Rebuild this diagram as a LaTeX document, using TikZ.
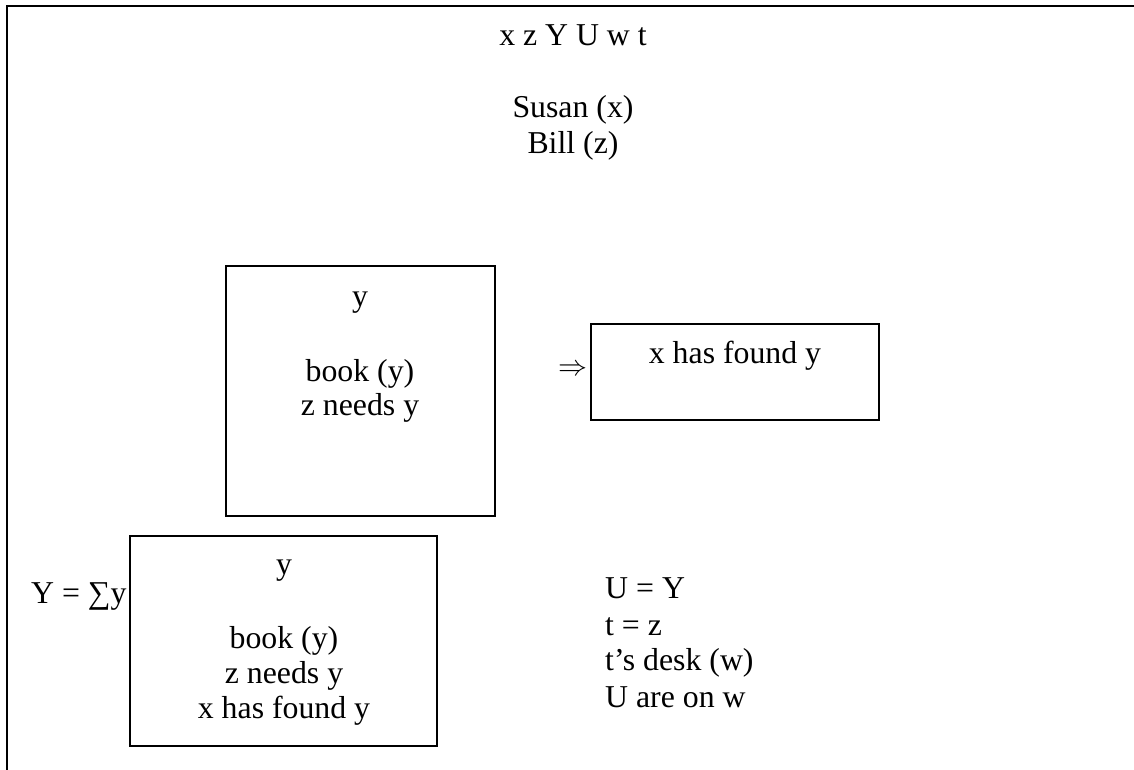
\documentclass[tikz,border=0pt]{standalone}
\usepackage{fontspec}
\usepackage{graphicx}
\setmainfont{Liberation Serif}
\begin{document}
\begin{tikzpicture}[x=1pt,y=-1pt,
  drsline/.style={line width=2pt,black},
  drsbox/.style={draw,line width=2pt,rectangle,inner sep=0pt,text=black},
  txt/.style={inner sep=0pt,anchor=base,font=\fontsize{31.8}{36}\selectfont},
  txtl/.style={txt,anchor=base west}]
  \useasboundingbox (0,0) rectangle (1134,770);

  % outer frame (only top and left edges fall in view)
  \draw[drsline] (1134,6) -- (7,6) -- (7,770);

  % main universe and conditions
  \node[txt] (univ) at (573,46) {x z Y U w t};
  \node[txt] (susan) at (573,118) {Susan (x)};
  \node[txt] (bill) at (573,154) {Bill (z)};

  % antecedent box
  \node[drsbox,minimum width=269pt,minimum height=250pt] (boxA) at (360.5,391) {};
  \node[txt] (ay) at (360,306) {y};
  \node[txt] (abook) at (360,381) {book (y)};
  \node[txt] (aneeds) at (360,415) {z needs y};

  % consequent box
  \node[drsbox,minimum width=288pt,minimum height=96pt] (boxB) at (735,372) {};
  \node[txt] (bfound) at (735,363) {x has found y};
  \node[inner sep=0pt,anchor=east] (impl) at ([xshift=-2pt,yshift=2pt]boxB.west)
    {\resizebox{29pt}{!}{$\Rightarrow$}};

  % abstraction box
  \node[drsbox,minimum width=307pt,minimum height=210pt] (boxC) at (283.5,641) {};
  \node[txt] (cy) at (284,574) {y};
  \node[txt] (cbook) at (284,648) {book (y)};
  \node[txt] (cneeds) at (284,683) {z needs y};
  \node[txt] (cfound) at (284,718) {x has found y};
  \node[txtl] (sum) at (31,603) {Y = ∑y};

  % remaining conditions
  \node[txtl] (c1) at (605,598) {U = Y};
  \node[txtl] (c2) at (605,635) {t = z};
  \node[txtl] (c3) at (605,670) {t’s desk (w)};
  \node[txtl] (c4) at (605,707) {U are on w};
\end{tikzpicture}
\end{document}
